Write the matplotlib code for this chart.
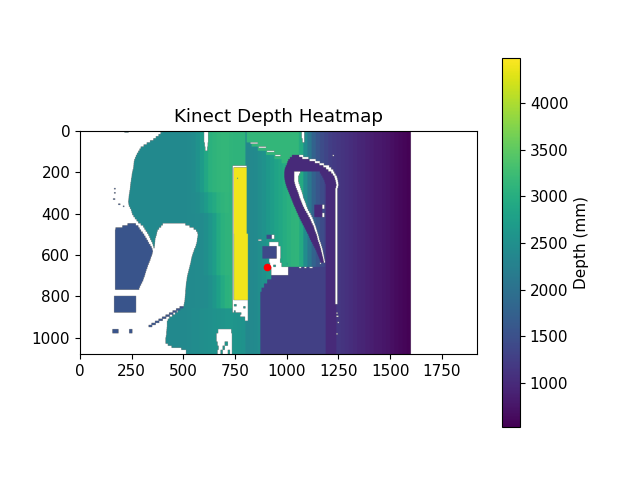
import numpy as np
import matplotlib
matplotlib.use("Agg")
import matplotlib.pyplot as plt

plt.rcParams["font.size"] = 11

# ---- depth values (mm) ----
HEIGHT, WIDTH = 1080, 1920
COL_STEP = 20
ROW_STEP = 10
VMIN, VMAX = 527, 4487

# background depth by column, one value per 20 px of image width
far_left = [2400] * 25
left_top = [2410, 2420, 2450, 2540, 2700, 2900, 3050, 3100, 3130, 3150, 3150, 3120, 3100, 3100, 3100]
left_upper = [2410, 2420, 2430, 2470, 2570, 2700, 2850, 2950, 3050, 3100, 3130, 3110, 3100, 3100, 3100]
left_mid = [2410, 2420, 2420, 2430, 2440, 2500, 2600, 2750, 2950, 3050, 3100, 3100, 3100, 3100, 3100]
left_lower = [2410, 2420, 2420, 2430, 2440, 2460, 2520, 2620, 2780, 2950, 3050, 3080, 3090, 3080, 3080]
left_low = [2410, 2420, 2450, 2460, 2480, 2500, 2520, 2540, 2560, 2580, 2600, 2600, 2580, 2560, 2540]
right_side = [2380, 2390, 2420, 2480, 2550, 2640, 2730, 2820, 2900, 2980, 3040, 3100, 3120, 2950, 2450,
              2100, 1780, 1580, 1450, 1350, 1260, 1200, 1170, 1130, 1090, 1040, 1000, 960, 930, 890,
              860, 820, 790, 760, 730, 690, 650, 610, 580, 550]

# first valid column of the scene, one per 10 px row
scene_left = [400, 390, 380, 367, 355, 339, 323, 308, 294, 288, 282, 276, 271, 267, 263, 261, 260, 259,
              258, 255, 253, 251, 250, 248, 247, 245, 244, 243, 242, 240, 239, 237, 236, 235, 234, 235,
              237, 242, 247, 250, 253, 259, 266, 274, 282, 294, 306, 312, 318, 325, 331, 336, 340, 345,
              350, 353, 356, 358, 550, 546, 543, 540, 538, 536, 534, 531, 529, 526, 524, 521, 519, 517,
              516, 514, 513, 512, 511, 510, 510, 509, 508, 507, 506, 504, 502, 495, 484, 472, 460, 446,
              432, 425, 421, 421, 421, 420, 419, 418, 418, 416, 414, 414, 414, 425, 443, 490, 513, 513]

# white hole right of the person, rows 450..570
hole_left = [400, 392, 382, 375, 372, 370, 367, 364, 363, 362, 361, 360, 358]
hole_right = [510, 530, 550, 562, 568, 570, 569, 567, 566, 564, 561, 558, 553]

# person silhouette, rows 450..760
person_left = [230, 205, 172] + [170] * 29
person_right = [270, 282, 288, 295, 303, 310, 316, 322, 328, 333, 340, 346, 350, 352, 350, 347,
                343, 340, 336, 332, 328, 325, 321, 318, 315, 312, 308, 305, 300, 295, 290, 286]
# cable running up to the hole, rows 850..940
cable_left = [482, 465, 448, 431, 414, 397, 380, 363, 346, 332]
cable_right = [500, 485, 468, 451, 434, 417, 400, 383, 366, 349]

# hook: arch rows 120..190, then arm rows 200..630
arch_left = [1025, 1015, 1007, 1003, 1000, 995, 991, 989]
arch_right = [1060, 1075, 1110, 1136, 1158, 1177, 1190, 1201]
arch_gap = [1080, 1105, 1140, 1160, 1180, 1205, 1215, 1225]
arm_outer = [988, 988, 988, 989, 991, 993, 996, 999, 1003, 1007, 1011, 1015, 1019, 1023, 1027, 1031,
             1035, 1040, 1044, 1048, 1053, 1057, 1062, 1067, 1072, 1077, 1083, 1088, 1093, 1098, 1104,
             1108, 1112, 1117, 1123, 1128, 1133, 1138, 1143, 1147, 1151, 1155, 1159, 1163]
arm_inner = [1036, 1036, 1036, 1036, 1036, 1038, 1041, 1044, 1048, 1052, 1056, 1059, 1062, 1066, 1070,
             1074, 1078, 1083, 1088, 1094, 1100, 1105, 1111, 1116, 1120, 1125, 1130, 1133, 1136, 1140,
             1144, 1147, 1149, 1152, 1156, 1159, 1162, 1165, 1167, 1170, 1172, 1175, 1177, 1179]
arm_gap = [1065, 1060, 1056, 1056, 1056, 1058, 1062, 1065, 1068, 1072, 1075, 1078, 1080, 1084, 1088,
           1092, 1095, 1099, 1103, 1109, 1115, 1120, 1125, 1129, 1132, 1136, 1140, 1143, 1146, 1149,
           1152, 1155, 1157, 1160, 1164, 1167, 1170, 1173, 1175, 1177, 1179, 1181, 1183, 1185]
# hook's far upright, rows 200..270
upright_left = [1160, 1166, 1172, 1177, 1182, 1185, 1188, 1188]
upright_right = [1215, 1223, 1230, 1233, 1236, 1238, 1240, 1238]
upright_gap = [1230, 1236, 1242, 1245, 1247, 1249, 1250, 1248]

# (row top, first column, last column) readings, 20 px tall
no_reading = [
    (0, 600, 620), (20, 600, 620), (40, 600, 620), (60, 603, 618), (80, 606, 616),
    (0, 1072, 1085), (20, 1072, 1085), (40, 1076, 1085), (0, 1600, 1920),
    (960, 668, 732), (980, 660, 735), (1000, 660, 735), (1020, 665, 700), (1020, 715, 735),
    (1040, 670, 690), (1040, 700, 735), (1060, 665, 680), (1060, 690, 715), (1060, 725, 735),
]
far_wall_rows = [(0, 806, 1055), (20, 806, 1055), (40, 806, 1055), (60, 830, 1055), (80, 860, 1055),
                 (100, 900, 1055), (120, 940, 1055), (140, 975, 1020)]
box_rows = [(560, 882, 951), (580, 882, 951), (600, 882, 951)]
bar_gap_rows = [(y, 738, 743) for y in range(180, 820, 20)] + [
    (820, 738, 812), (840, 738, 812), (860, 738, 812), (880, 775, 812), (900, 798, 812),
    (540, 915, 960), (560, 951, 970), (580, 951, 970), (600, 951, 970), (620, 915, 968),
    (640, 919, 975), (660, 925, 1007), (680, 925, 1007), (360, 1172, 1182), (400, 1172, 1182)]
person_low_rows = [(800, 165, 271), (820, 165, 271), (840, 165, 271), (860, 165, 271),
                   (960, 157, 186), (960, 238, 253)]
bar_rows = [(y, 743, 806) for y in range(180, 500, 20)] + [(y, 745, 812) for y in range(500, 820, 20)]
band_rows = [(y, 1188, 1236) for y in range(280, 660, 20)] + [(y, 1188, 1240) for y in range(660, 1080, 20)] + [
    (360, 1133, 1172), (380, 1133, 1172), (400, 1133, 1172)]
rim_gap_rows = [(y, 1235, 1245) for y in range(280, 840, 20)]
body_rows = [(660, 1007, 1188), (680, 1007, 1188), (700, 925, 1188), (720, 905, 1188), (740, 890, 1188),
             (760, 878, 1188)] + [(y, 872, 1188) for y in range(780, 1080, 20)]
small_box_rows = [(505, 902, 927)]
small_gap_rows = [(505, 927, 940)]

# small details, 6 px tall
thin_gap_rows = [(60, 824, 860), (80, 864, 900), (100, 904, 940), (120, 944, 970),
                 (880, 1240, 1246), (895, 1240, 1250), (925, 1246, 1252), (980, 1240, 1246),
                 (120, 1222, 1228), (640, 1160, 1166), (528, 862, 878),
                 (660, 1060, 1070), (660, 1085, 1095), (660, 1110, 1125)]
person_specks = [(280, 165, 172), (300, 165, 172), (330, 160, 170), (355, 185, 195), (365, 208, 214)]
wall_specks = [(0, 190, 205), (6, 215, 235), (230, 760, 764)]
green_specks = [(840, 745, 757), (850, 790, 800), (870, 745, 752), (880, 768, 780), (650, 935, 947),
                (640, 1000, 1004)]

FAR_WALL_DEPTH = 3150
PERSON_DEPTH = 1550
BAR_DEPTH = 4400
HOOK_DEPTH = 1000
BODY_DEPTH = 1270
BOX_DEPTH = 1400
SPECK_DEPTH = 2600
WALL_DEPTH = 2400

target_x, target_y = 906, 658

# ---- assemble the depth map ----
depth = np.full((HEIGHT, WIDTH), np.nan)


def paint(rows, value, height=20):
    for top, x0, x1 in rows:
        depth[top:top + height, x0:x1] = value


def paint_table(first_row, lefts, rights, value):
    rows = [(first_row + i * ROW_STEP, a, b) for i, (a, b) in enumerate(zip(lefts, rights))]
    paint(rows, value, height=ROW_STEP)


col_top = np.repeat(far_left + left_top + right_side, COL_STEP)
col_upper = np.repeat(far_left + left_upper + right_side, COL_STEP)
col_mid = np.repeat(far_left + left_mid + right_side, COL_STEP)
col_lower = np.repeat(far_left + left_lower + right_side, COL_STEP)
col_low = np.repeat(far_left + left_low + right_side, COL_STEP)
for i, x0 in enumerate(scene_left):
    top = i * ROW_STEP
    if top < 300:
        cols = col_top
    elif top < 400:
        cols = col_upper
    elif top < 700:
        cols = col_mid
    elif top < 860:
        cols = col_lower
    else:
        cols = col_low
    depth[top:top + ROW_STEP, x0:1600] = cols[x0:1600]

paint(far_wall_rows, FAR_WALL_DEPTH)
paint(no_reading, np.nan)
paint_table(450, hole_left, hole_right, np.nan)
paint_table(450, person_left, person_right, PERSON_DEPTH)
paint(person_low_rows, PERSON_DEPTH)
paint_table(850, cable_left, cable_right, PERSON_DEPTH)
paint(bar_rows, BAR_DEPTH)
paint([(172, 738, 806)], np.nan, height=8)
paint(bar_gap_rows, np.nan)
paint(body_rows, BODY_DEPTH)
paint_table(120, arch_left, arch_right, HOOK_DEPTH)
paint_table(120, arch_right, arch_gap, np.nan)
paint_table(200, arm_outer, arm_inner, HOOK_DEPTH)
paint_table(200, arm_inner, arm_gap, np.nan)
paint_table(200, upright_left, upright_right, HOOK_DEPTH)
paint_table(200, upright_right, upright_gap, np.nan)
paint(band_rows, HOOK_DEPTH)
paint(rim_gap_rows, np.nan)
paint(box_rows, BOX_DEPTH)
paint(small_box_rows, BOX_DEPTH)
paint(small_gap_rows, np.nan)
paint(thin_gap_rows, np.nan, height=6)
paint(person_specks, PERSON_DEPTH, height=6)
paint(wall_specks, WALL_DEPTH, height=6)
paint(green_specks, SPECK_DEPTH, height=10)

# ---- draw ----
fig, ax = plt.subplots(figsize=(6.4, 4.8), dpi=100)
im = ax.imshow(depth, cmap="viridis", vmin=VMIN, vmax=VMAX)
ax.scatter([target_x], [target_y], c="red", s=20)
ax.set_title("Kinect Depth Heatmap")
cbar = fig.colorbar(im, ax=ax)
cbar.set_label("Depth (mm)")
fig.savefig("out.png", dpi=100)
